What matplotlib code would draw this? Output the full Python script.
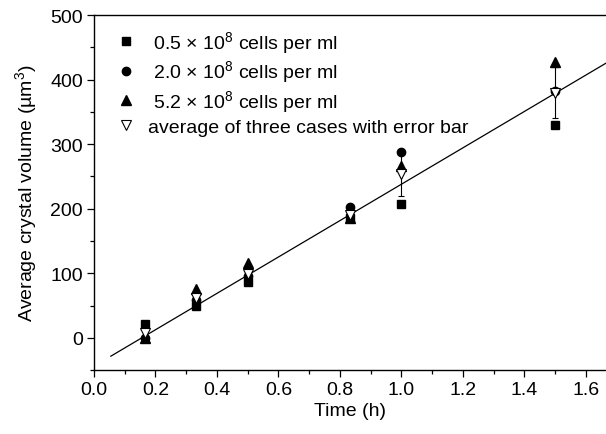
import numpy as np
import matplotlib
matplotlib.use("Agg")
import matplotlib.pyplot as plt
from matplotlib.container import ErrorbarContainer

plt.rcParams['font.family'] = ['Liberation Sans', 'DejaVu Sans']
plt.rcParams['mathtext.fontset'] = 'custom'
plt.rcParams['mathtext.rm'] = 'Liberation Sans'
plt.rcParams['mathtext.it'] = 'Liberation Sans:italic'

# data
time_h = [0.167, 0.333, 0.5, 0.833, 1.0, 1.5]
vol_05 = [21, 50, 86, 185, 207, 330]
vol_20 = [0, 58, 95, 202, 288, 383]
vol_52 = [0, 75, 116, 185, 266, 427]
vol_avg = [7, 61, 99, 190, 254, 380]
vol_err = [10, 10, 12, 8, 34, 40]

# linear fit
fit_slope = 282
fit_intercept = -44
fit_range = [0.055, 1.67]

labels = [r' 0.5 $\times$ 10$^8$ cells per ml',
          r' 2.0 $\times$ 10$^8$ cells per ml',
          r' 5.2 $\times$ 10$^8$ cells per ml',
          'average of three cases with error bar']

fig = plt.figure(figsize=(6.06, 4.35), dpi=100)
ax = fig.add_axes([0.155, 0.147, 0.845, 0.816])

xf = np.array(fit_range)
ax.plot(xf, fit_slope * xf + fit_intercept, color='black', lw=0.9, zorder=1)

ax.plot(time_h, vol_05, 's', color='black', ms=5.5, ls='none', label=labels[0], zorder=2)
ax.plot(time_h, vol_20, 'o', color='black', ms=6, ls='none', label=labels[1], zorder=2)
ax.plot(time_h, vol_52, '^', color='black', ms=6.5, ls='none', label=labels[2], zorder=2)
ax.errorbar(time_h, vol_avg, yerr=vol_err, fmt='v', mfc='white', mec='black', mew=0.8,
            ms=7, ecolor='black', elinewidth=0.8, capsize=2.5, capthick=0.8,
            label=labels[3], zorder=3)

ax.set_xlim(0, 1.665)
ax.set_ylim(-50, 500)
ax.set_xticks(np.arange(0, 1.61, 0.2))
ax.set_xticks(np.arange(0.1, 1.61, 0.2), minor=True)
ax.set_yticks(np.arange(0, 501, 100))
ax.set_yticks(np.arange(-50, 501, 100), minor=True)
ax.xaxis.set_major_formatter(matplotlib.ticker.FormatStrFormatter('%.1f'))
ax.tick_params(which='major', length=5, width=0.9, labelsize=14, direction='out', pad=3)
ax.tick_params(which='minor', length=3, width=0.9, direction='out')
ax.spines['right'].set_visible(False)
for s in ['left', 'bottom', 'top']:
    ax.spines[s].set_linewidth(1.0)

ax.set_xlabel('Time (h)', fontsize=14, labelpad=3)
ax.set_ylabel('Average crystal volume (\u00b5m$^3$)', fontsize=14, labelpad=8)

handles, labs = ax.get_legend_handles_labels()
handles = [h[0] if isinstance(h, ErrorbarContainer) else h for h in handles]
ax.legend(handles, labs, loc='upper left', frameon=False, fontsize=14,
          handletextpad=0.65, labelspacing=0.2, borderaxespad=0.3,
          handlelength=1.0, bbox_to_anchor=(0.017, 1.0))

fig.savefig('out.png', dpi=100)
